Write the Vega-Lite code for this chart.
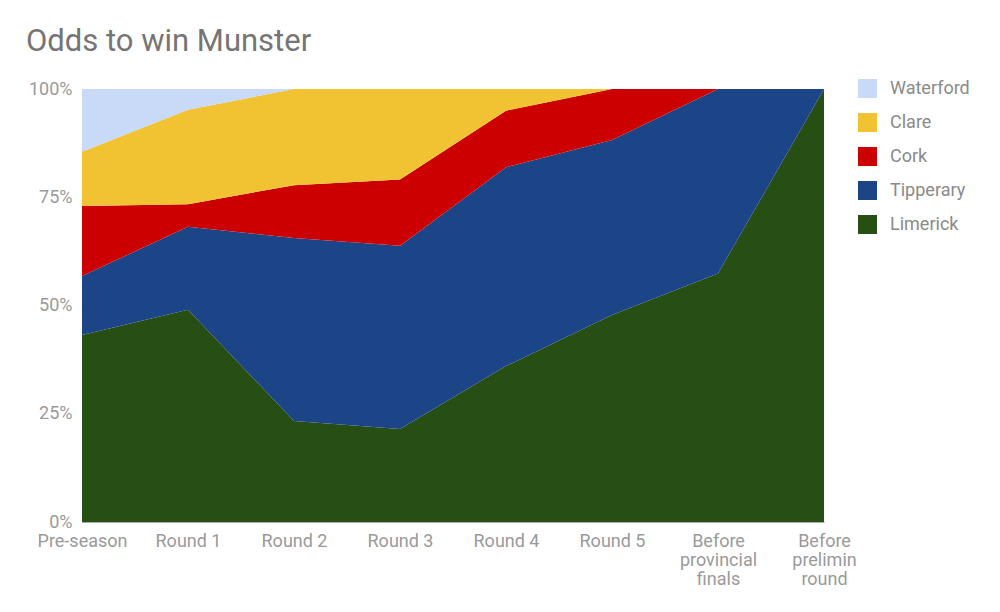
{
  "$schema": "https://vega.github.io/schema/vega-lite/v6.json",
  "autosize": "none",
  "width": 742,
  "height": 433,
  "padding": {"left": 82, "top": 89, "right": 176, "bottom": 90},
  "background": "white",
  "config": {
    "font": "Roboto",
    "view": {"stroke": null},
    "axis": {"labelFont": "Roboto", "labelColor": "#9a9a9a", "labelFontSize": 18, "titleFont": "Roboto"},
    "legend": {"labelFont": "Roboto"}
  },
  "title": {
    "text": "Odds to win Munster",
    "anchor": "start",
    "frame": "group",
    "dx": -56,
    "offset": 21,
    "fontSize": 31,
    "fontWeight": "normal",
    "color": "#757575",
    "font": "Roboto"
  },
  "data": {
    "values": [
      {"stage": "Pre-season", "team": "Limerick", "odds": 43.2},
      {"stage": "Pre-season", "team": "Tipperary", "odds": 13.6},
      {"stage": "Pre-season", "team": "Cork", "odds": 16.2},
      {"stage": "Pre-season", "team": "Clare", "odds": 12.5},
      {"stage": "Pre-season", "team": "Waterford", "odds": 14.5},
      {"stage": "Round 1", "team": "Limerick", "odds": 49.0},
      {"stage": "Round 1", "team": "Tipperary", "odds": 19.2},
      {"stage": "Round 1", "team": "Cork", "odds": 5.2},
      {"stage": "Round 1", "team": "Clare", "odds": 21.8},
      {"stage": "Round 1", "team": "Waterford", "odds": 4.8},
      {"stage": "Round 2", "team": "Limerick", "odds": 23.3},
      {"stage": "Round 2", "team": "Tipperary", "odds": 42.3},
      {"stage": "Round 2", "team": "Cork", "odds": 12.2},
      {"stage": "Round 2", "team": "Clare", "odds": 22.2},
      {"stage": "Round 2", "team": "Waterford", "odds": 0},
      {"stage": "Round 3", "team": "Limerick", "odds": 21.5},
      {"stage": "Round 3", "team": "Tipperary", "odds": 42.3},
      {"stage": "Round 3", "team": "Cork", "odds": 15.3},
      {"stage": "Round 3", "team": "Clare", "odds": 20.9},
      {"stage": "Round 3", "team": "Waterford", "odds": 0},
      {"stage": "Round 4", "team": "Limerick", "odds": 36.0},
      {"stage": "Round 4", "team": "Tipperary", "odds": 45.9},
      {"stage": "Round 4", "team": "Cork", "odds": 13.1},
      {"stage": "Round 4", "team": "Clare", "odds": 5.0},
      {"stage": "Round 4", "team": "Waterford", "odds": 0},
      {"stage": "Round 5", "team": "Limerick", "odds": 47.8},
      {"stage": "Round 5", "team": "Tipperary", "odds": 40.4},
      {"stage": "Round 5", "team": "Cork", "odds": 11.8},
      {"stage": "Round 5", "team": "Clare", "odds": 0},
      {"stage": "Round 5", "team": "Waterford", "odds": 0},
      {"stage": "Before provincial finals", "team": "Limerick", "odds": 57.4},
      {"stage": "Before provincial finals", "team": "Tipperary", "odds": 42.6},
      {"stage": "Before provincial finals", "team": "Cork", "odds": 0},
      {"stage": "Before provincial finals", "team": "Clare", "odds": 0},
      {"stage": "Before provincial finals", "team": "Waterford", "odds": 0},
      {"stage": "Before prelimin round", "team": "Limerick", "odds": 100},
      {"stage": "Before prelimin round", "team": "Tipperary", "odds": 0},
      {"stage": "Before prelimin round", "team": "Cork", "odds": 0},
      {"stage": "Before prelimin round", "team": "Clare", "odds": 0},
      {"stage": "Before prelimin round", "team": "Waterford", "odds": 0}
    ]
  },
  "transform": [
    {"calculate": "indexof(['Limerick','Tipperary','Cork','Clare','Waterford'], datum.team)", "as": "stackOrder"}
  ],
  "mark": {"type": "area", "opacity": 1},
  "encoding": {
    "x": {
      "field": "stage",
      "type": "ordinal",
      "sort": null,
      "scale": {"type": "point", "padding": 0},
      "axis": {
        "title": null,
        "labelAngle": 0,
        "ticks": false,
        "labelPadding": 10,
        "labelLineHeight": 19,
        "domainColor": "#aaaaaa",
        "labelExpr": "indexof(datum.label, 'Before') == 0 ? split(datum.label, ' ') : datum.label"
      }
    },
    "y": {
      "field": "odds",
      "type": "quantitative",
      "stack": "normalize",
      "axis": {
        "title": null,
        "format": ".0%",
        "values": [0, 0.25, 0.5, 0.75, 1],
        "ticks": false,
        "grid": true,
        "gridColor": "#dddddd",
        "domainColor": "#aaaaaa",
        "labelPadding": 10
      }
    },
    "color": {
      "field": "team",
      "type": "nominal",
      "scale": {
        "domain": ["Waterford", "Clare", "Cork", "Tipperary", "Limerick"],
        "range": ["#c9daf8", "#f1c232", "#cc0000", "#1c4587", "#274e13"]
      },
      "legend": {
        "title": null,
        "orient": "none",
        "legendX": 776,
        "legendY": -10,
        "symbolType": "square",
        "symbolSize": 361,
        "symbolStrokeWidth": 0,
        "rowPadding": 15,
        "labelFontSize": 18,
        "labelColor": "#8a8a8a",
        "labelOffset": 13
      }
    },
    "order": {"field": "stackOrder", "type": "quantitative"}
  }
}
